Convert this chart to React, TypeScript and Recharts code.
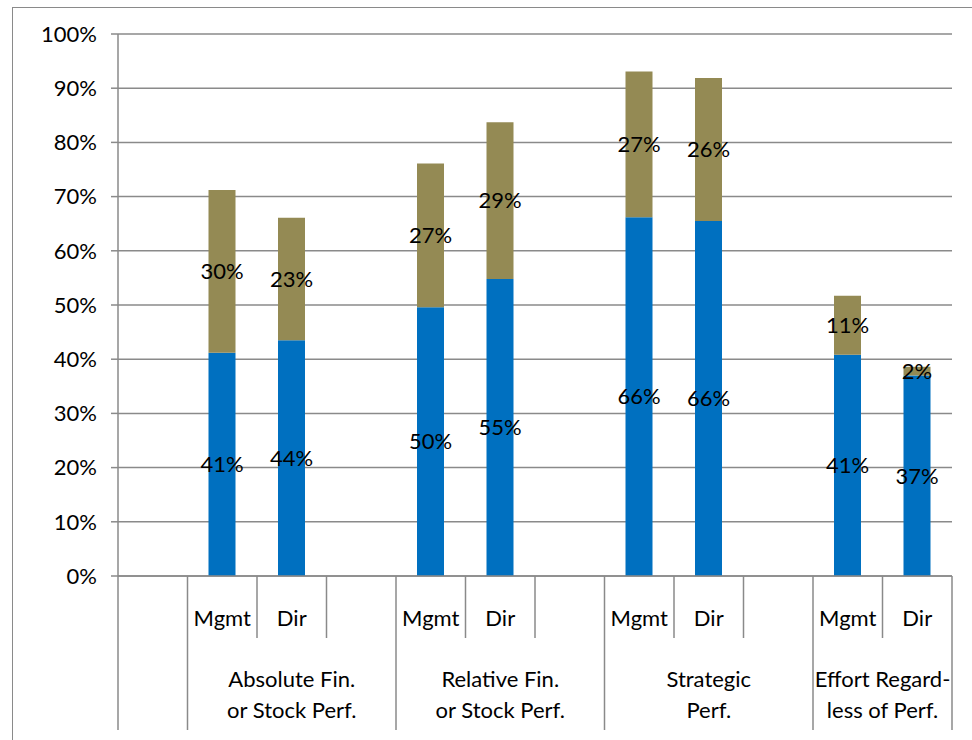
import { BarChart, Bar, XAxis, YAxis, CartesianGrid, LabelList } from 'recharts';

// one slot per category position; blank slots are spacers between groups
const slotLabels = ['', 'Mgmt', 'Dir', '', 'Mgmt', 'Dir', '', 'Mgmt', 'Dir', '', 'Mgmt', 'Dir'];

// blue (lower) segment, percent
const coreShare = [null, 41.2, 43.5, null, 49.6, 54.8, null, 66.2, 65.5, null, 40.8, 37.0];
// olive (upper) segment, percent
const extraShare = [null, 30.0, 22.6, null, 26.5, 28.9, null, 26.9, 26.4, null, 10.9, 1.6];

// group headings under the slot row, and the slot each group starts at
const groupNames = [
  [''],
  ['Absolute Fin.', 'or Stock Perf.'],
  ['Relative Fin.', 'or Stock Perf.'],
  ['Strategic', 'Perf.'],
  ['Effort Regard-', 'less of Perf.'],
];
const groupStarts = [0, 1, 4, 7, 10];

const yTicks = [0, 10, 20, 30, 40, 50, 60, 70, 80, 90, 100];

const W = 972;
const H = 740;
const PLOT_LEFT = 118;
const PLOT_RIGHT = 952;
const PLOT_TOP = 34;
const AXIS_Y = 576;
const SLOT_W = (PLOT_RIGHT - PLOT_LEFT) / slotLabels.length;
const LINE = '#8a8a8a';
const FONT = 'Lato, sans-serif';
const FS = 22;

const data = slotLabels.map((_, i) => ({
  slot: i,
  core: coreShare[i],
  extra: extraShare[i],
}));

const pct = (v: any) => (v == null ? '' : `${Math.round(Number(v))}%`);

function SlotTick({ x, y, payload }: any) {
  const i = Number(payload.value);
  const left = x - SLOT_W / 2;
  const g = groupStarts.indexOf(i);
  const span = g >= 0 ? (groupStarts[g + 1] ?? slotLabels.length) - i : 0;
  const last = i === slotLabels.length - 1;
  return (
    <g fontFamily={FONT} fontSize={FS} fill="#000">
      <line x1={left} y1={y} x2={left} y2={g >= 0 ? y + 154 : y + 62} stroke={LINE} strokeWidth={1.5} />
      {last && (
        <line x1={x + SLOT_W / 2} y1={y} x2={x + SLOT_W / 2} y2={y + 154} stroke={LINE} strokeWidth={1.5} />
      )}
      <text x={x} y={y + 50} textAnchor="middle">{slotLabels[i]}</text>
      {g >= 0 &&
        groupNames[g].map((line, k) => (
          <text key={k} x={left + (span * SLOT_W) / 2} y={y + 111 + k * 31} textAnchor="middle">
            {line}
          </text>
        ))}
    </g>
  );
}

export default function App() {
  return (
    <div
      style={{
        position: 'absolute',
        left: 0,
        top: 0,
        width: W,
        height: H,
        overflow: 'hidden',
        background: '#fff',
        fontFamily: FONT,
      }}
    >
      <div
        style={{
          position: 'absolute',
          left: 12,
          top: 7,
          width: W,
          height: H,
          borderLeft: `1.5px solid ${LINE}`,
          borderTop: `1.5px solid ${LINE}`,
        }}
      />
      <div style={{ position: 'absolute', left: 0, top: 0 }}>
        <BarChart
          width={W}
          height={H}
          data={data}
          margin={{ top: PLOT_TOP, right: W - PLOT_RIGHT, left: 0, bottom: 0 }}
          barSize={27}
        >
          <CartesianGrid vertical={false} stroke={LINE} strokeWidth={1.5} />
          <XAxis
            dataKey="slot"
            type="category"
            height={H - AXIS_Y}
            interval={0}
            tickSize={0}
            tickMargin={0}
            tickLine={false}
            axisLine={{ stroke: LINE, strokeWidth: 1.5 }}
            tick={<SlotTick />}
          />
          <YAxis
            width={PLOT_LEFT}
            domain={[0, 100]}
            ticks={yTicks}
            interval={0}
            tickFormatter={(v: number) => `${v}%`}
            tickSize={7}
            tickMargin={14}
            axisLine={{ stroke: LINE, strokeWidth: 1.5 }}
            tickLine={{ stroke: LINE, strokeWidth: 1.5 }}
            tick={{ fill: '#000', fontSize: FS, fontFamily: FONT }}
          />
          <Bar dataKey="core" stackId="s" fill="#0070C0" isAnimationActive={false}>
            <LabelList dataKey="core" position="center" formatter={pct} fill="#000" fontSize={FS} fontFamily={FONT} />
          </Bar>
          <Bar dataKey="extra" stackId="s" fill="#948A54" isAnimationActive={false}>
            <LabelList dataKey="extra" position="center" formatter={pct} fill="#000" fontSize={FS} fontFamily={FONT} />
          </Bar>
        </BarChart>
      </div>
    </div>
  );
}
